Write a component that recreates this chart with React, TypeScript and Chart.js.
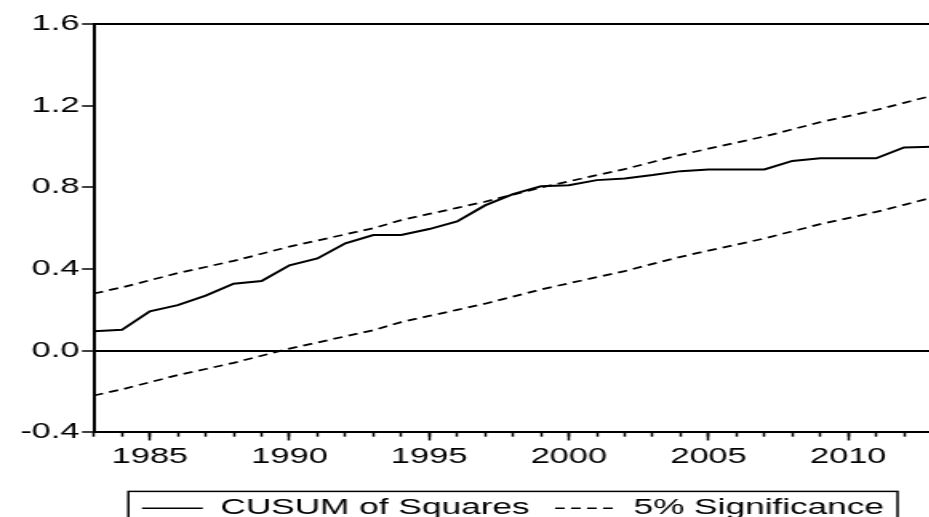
import React, { useEffect, useRef } from 'react';
import { Chart, registerables } from 'chart.js';

Chart.register(...registerables);

const YEARS = [
  1983, 1984, 1985, 1986, 1987, 1988, 1989, 1990, 1991, 1992,
  1993, 1994, 1995, 1996, 1997, 1998, 1999, 2000, 2001, 2002,
  2003, 2004, 2005, 2006, 2007, 2008, 2009, 2010, 2011, 2012, 2013,
];

const CUSUM_SQ = [
  0.095, 0.102, 0.193, 0.223, 0.27, 0.328, 0.341, 0.418, 0.452, 0.526,
  0.567, 0.567, 0.596, 0.633, 0.712, 0.767, 0.806, 0.811, 0.836, 0.844,
  0.861, 0.88, 0.888, 0.888, 0.888, 0.93, 0.943, 0.943, 0.943, 0.996, 1.0,
];

const UPPER_5 = [
  0.28, 0.31, 0.345, 0.38, 0.41, 0.44, 0.475, 0.51, 0.54, 0.57,
  0.6, 0.64, 0.67, 0.7, 0.73, 0.765, 0.8, 0.83, 0.86, 0.89,
  0.925, 0.96, 0.99, 1.02, 1.05, 1.085, 1.12, 1.15, 1.18, 1.215, 1.25,
];

const LOWER_5 = [
  -0.22, -0.19, -0.155, -0.12, -0.09, -0.06, -0.025, 0.01, 0.04, 0.07,
  0.1, 0.14, 0.17, 0.2, 0.23, 0.265, 0.3, 0.33, 0.36, 0.39,
  0.425, 0.46, 0.49, 0.52, 0.55, 0.585, 0.62, 0.65, 0.68, 0.715, 0.75,
];

const X_LABEL_YEARS = [1985, 1990, 1995, 2000, 2005, 2010];
const Y_TICKS = [-0.4, 0, 0.4, 0.8, 1.2, 1.6];

const SERIES_LABELS = ['CUSUM of Squares', '5% Significance'];

// The reference is stretched horizontally; draw on a narrower bitmap and stretch it with CSS.
const STRETCH = 1.6;
const CW = 590;
const CH = 560;

export default function App() {
  const ref = useRef<HTMLCanvasElement>(null);

  useEffect(() => {
    document.body.style.margin = '0';
    Chart.defaults.font.family = "'Liberation Sans', Arial, sans-serif";
    Chart.defaults.color = '#000';
    const canvas = ref.current;
    if (!canvas) return;

    const legendBox = {
      id: 'legendBox',
      afterDraw(chart: any) {
        const lg = chart.legend;
        const hb = lg && lg.legendHitBoxes;
        if (!hb || hb.length < 2) return;
        const c = chart.ctx;
        const first = hb[0];
        const last = hb[hb.length - 1];
        const l = first.left - 8.5;
        const r = last.left + last.width + 8.5;
        const t = first.top - 5.8;
        c.save();
        c.strokeStyle = '#000';
        c.lineWidth = 1.5;
        c.strokeRect(l, t, r - l, CH + 20 - t);
        c.restore();
      },
    };

    const toPts = (vals: number[]) => YEARS.map((x, i) => ({ x, y: vals[i] }));

    const chart = new Chart(canvas, {
      type: 'line',
      data: {
        datasets: [
          {
            label: SERIES_LABELS[0],
            data: toPts(CUSUM_SQ),
            borderColor: '#000',
            backgroundColor: '#000',
            borderWidth: 2,
            pointRadius: 0,
            tension: 0,
            fill: false,
          },
          {
            label: SERIES_LABELS[1],
            data: toPts(UPPER_5),
            borderColor: '#000',
            backgroundColor: '#000',
            borderWidth: 1.8,
            borderDash: [6, 4],
            pointRadius: 0,
            tension: 0,
            fill: false,
          },
          {
            label: SERIES_LABELS[1] + ' lower',
            data: toPts(LOWER_5),
            borderColor: '#000',
            backgroundColor: '#000',
            borderWidth: 1.8,
            borderDash: [6, 4],
            pointRadius: 0,
            tension: 0,
            fill: false,
          },
        ],
      },
      options: {
        responsive: false,
        animation: false,
        devicePixelRatio: 1,
        layout: { padding: { top: 24.3, bottom: 30.8, left: 0, right: 4.5 } },
        plugins: {
          tooltip: { enabled: false },
          title: { display: false },
          legend: {
            display: true,
            position: 'bottom',
            align: 'center',
            fullSize: false,
            labels: {
              color: '#000',
              font: { size: 22 },
              usePointStyle: true,
              pointStyle: 'line',
              pointStyleWidth: 38,
              padding: 16,
              filter: (item: any) => item.datasetIndex < 2,
              generateLabels: (ch: any) => {
                const items = Chart.defaults.plugins.legend.labels.generateLabels(ch);
                return items.map((it: any) => {
                  const ds = ch.data.datasets[it.datasetIndex];
                  return { ...it, lineDash: ds.borderDash || [], lineWidth: 1.4, strokeStyle: '#000' };
                });
              },
            },
          },
        },
        scales: {
          x: {
            type: 'linear',
            position: 'bottom',
            min: 1983,
            max: 2013,
            afterBuildTicks: (s: any) => {
              s.ticks = YEARS.map((v) => ({ value: v }));
            },
            afterFit: (s: any) => {
              s.height = 49;
            },
            ticks: {
              autoSkip: false,
              maxRotation: 0,
              minRotation: 0,
              padding: 7.5,
              color: '#000',
              font: { size: 21.5 },
              callback: (v: any) => (X_LABEL_YEARS.includes(Number(v)) ? String(v) : ''),
            },
            grid: {
              display: true,
              drawOnChartArea: false,
              drawTicks: true,
              tickLength: 4.5,
              tickWidth: 1.5,
              tickColor: '#000',
            },
            border: { display: true, color: '#000', width: 2 },
          },
          x2: {
            type: 'linear',
            axis: 'x',
            position: { y: -0.4 },
            min: 1983,
            max: 2013,
            afterBuildTicks: (s: any) => {
              s.ticks = X_LABEL_YEARS.map((v) => ({ value: v }));
            },
            ticks: { display: false },
            grid: {
              display: true,
              drawOnChartArea: false,
              drawTicks: true,
              tickLength: 8.5,
              tickWidth: 1.5,
              tickColor: '#000',
            },
            border: { display: false },
          },
          y: {
            type: 'linear',
            position: 'left',
            min: -0.4,
            max: 1.6,
            afterBuildTicks: (s: any) => {
              s.ticks = Y_TICKS.map((v) => ({ value: v }));
            },
            afterFit: (s: any) => {
              s.width = 58.75;
            },
            ticks: {
              padding: 1.5,
              color: '#000',
              font: { size: 21.5 },
              callback: (v: any) => Number(v).toFixed(1),
            },
            grid: {
              display: true,
              drawOnChartArea: true,
              drawTicks: true,
              tickLength: 7.5,
              tickWidth: 1.5,
              tickColor: '#000',
              lineWidth: 2,
              color: (ctx: any) =>
                ctx.tick && (Math.abs(ctx.tick.value) < 1e-9 || Math.abs(ctx.tick.value - 1.6) < 1e-9)
                  ? '#000'
                  : 'rgba(0,0,0,0)',
            },
            border: { display: true, color: '#000', width: 2 },
          },
        },
      } as any,
      plugins: [legendBox],
    });

    return () => chart.destroy();
  }, []);

  return (
    <div
      style={{
        position: 'fixed',
        left: 0,
        top: 0,
        width: 929,
        height: 517,
        overflow: 'hidden',
        background: '#fff',
      }}
    >
      <canvas
        ref={ref}
        width={CW}
        height={CH}
        style={{ width: `${CW * STRETCH}px`, height: `${CH}px`, display: 'block' }}
      />
    </div>
  );
}
